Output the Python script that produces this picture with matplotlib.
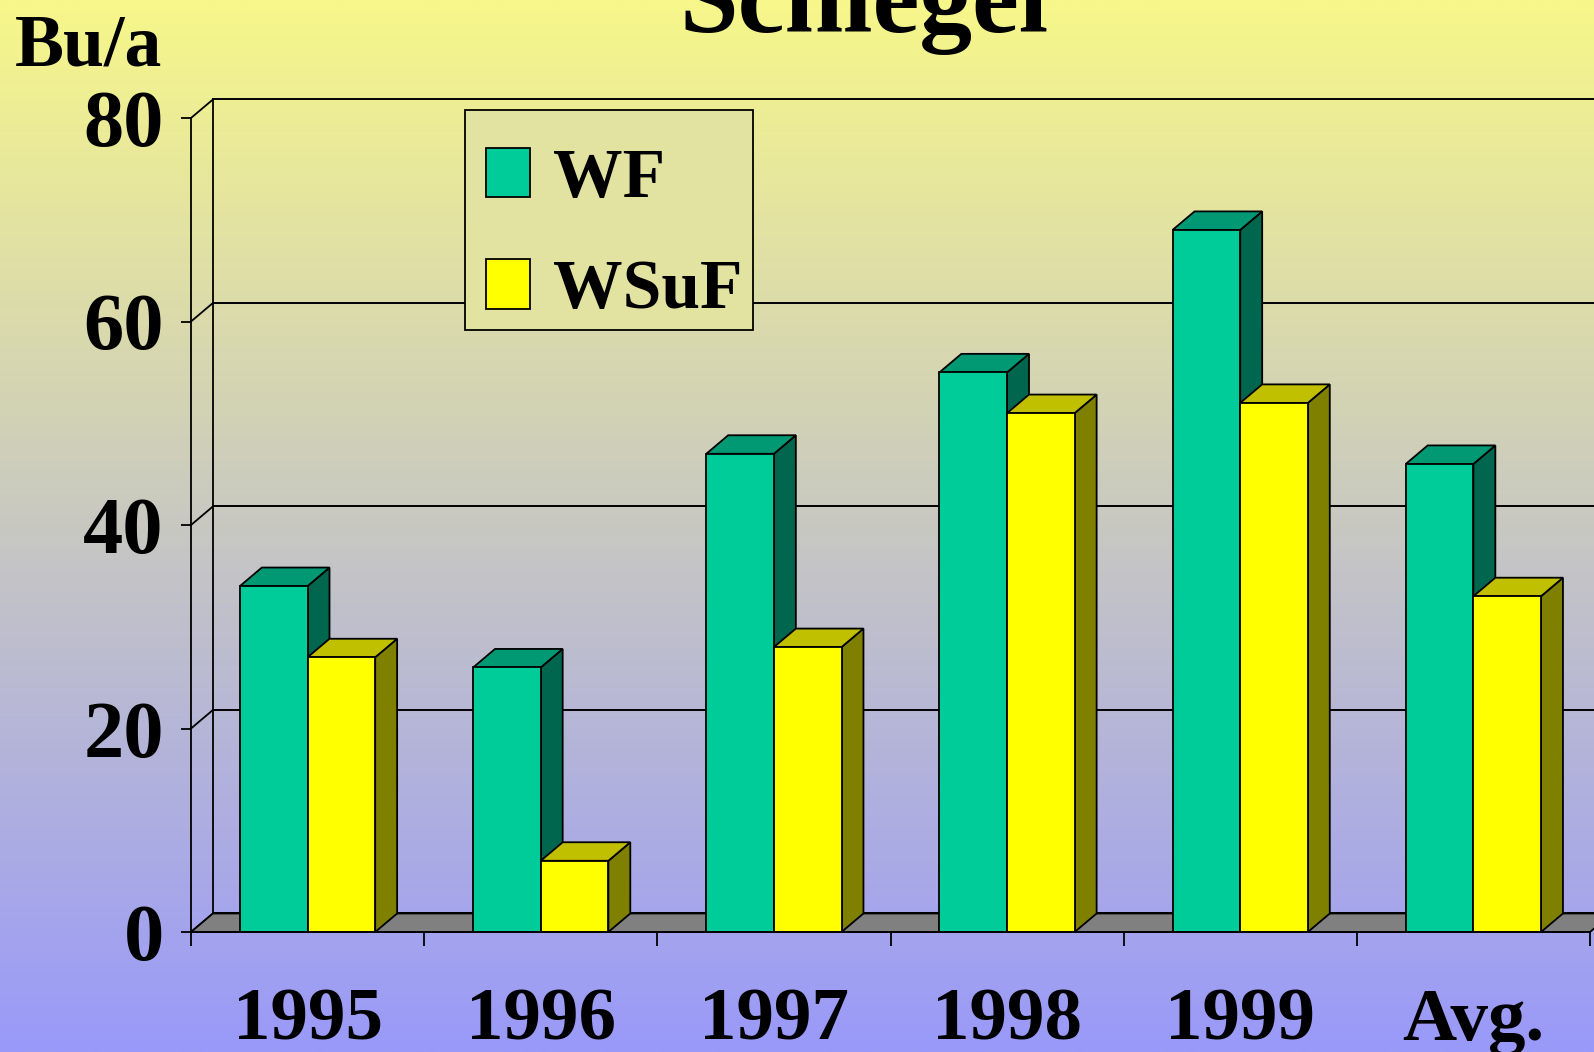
import matplotlib
matplotlib.use("Agg")
import matplotlib.pyplot as plt
import numpy as np
from matplotlib.patches import Polygon, Patch, Rectangle
from matplotlib.transforms import blended_transform_factory

plt.rcParams['font.family'] = ['Liberation Serif', 'DejaVu Serif']
plt.rcParams['font.weight'] = 'bold'

# data
years = ['1995', '1996', '1997', '1998', '1999', 'Avg.']
wf = [34, 26, 47, 55, 69, 46]
wsuf = [27, 7, 28, 51, 52, 33]
yticks = [0, 20, 40, 60, 80]

wf_cols = ('#00CC99', '#009973', '#00664D')    # front, top, side
wsuf_cols = ('#FFFF00', '#C0C000', '#808000')

W, H = 1594, 1052
fig = plt.figure(figsize=(W / 100, H / 100), dpi=100)

# background gradient yellow -> lavender
top = np.array([247, 247, 138]) / 255
bot = np.array([153, 153, 250]) / 255
t = np.linspace(0, 1, 512)[:, None]
grad = (top * (1 - t) + bot * t)[:, None, :]
bg = fig.add_axes([0, 0, 1, 1])
bg.imshow(grad, aspect='auto', extent=[0, 1, 0, 1])
bg.axis('off')

ax = fig.add_axes([191 / W, 120 / H, 1399 / W, 814 / H])
ax.patch.set_visible(False)
ax.set_xlim(-0.5, 5.5)
ax.set_ylim(0, 80)

dx, dy = 0.094, 1.82   # depth offset
bw = 0.29
x = np.arange(len(years))

# floor
ax.add_patch(Polygon([(-0.5, 0), (5.5, 0), (5.5 + dx, dy), (-0.5 + dx, dy)],
                     closed=True, facecolor='#808080', edgecolor='k', lw=1.3,
                     clip_on=False, zorder=2))
# back wall grid + left wall
for v in yticks:
    ax.plot([-0.5 + dx, 6.5], [v + dy, v + dy], color='k', lw=1.4, clip_on=False, zorder=1)
    ax.plot([-0.5, -0.5 + dx], [v, v + dy], color='k', lw=1.3, clip_on=False, zorder=1)
ax.plot([-0.5 + dx, -0.5 + dx], [dy, 80 + dy], color='k', lw=1.3, clip_on=False, zorder=1)


def bar3d(xl, h, cols, z):
    xr = xl + bw
    ax.add_patch(Polygon([(xr, 0), (xr + dx, dy), (xr + dx, h + dy), (xr, h)],
                         facecolor=cols[2], edgecolor='k', lw=1.3, zorder=z, clip_on=False))
    ax.add_patch(Polygon([(xl, h), (xr, h), (xr + dx, h + dy), (xl + dx, h + dy)],
                         facecolor=cols[1], edgecolor='k', lw=1.3, zorder=z, clip_on=False))
    ax.bar(xl, h, width=bw, align='edge', color=cols[0], edgecolor='k',
           lw=1.3, zorder=z + 0.5, clip_on=False)


for i in range(len(years)):
    bar3d(x[i] - bw, wf[i], wf_cols, 3)
    bar3d(x[i], wsuf[i], wsuf_cols, 5)

# axes styling
for s in ['top', 'right']:
    ax.spines[s].set_visible(False)
for s in ['left', 'bottom']:
    ax.spines[s].set_linewidth(1.3)
    ax.spines[s].set_zorder(7)
ax.set_yticks(yticks)
ax.tick_params(axis='y', length=7.5, width=1.3, pad=12, labelsize=58)
ax.set_xticks(np.arange(-0.5, 6, 1))
ax.set_xticklabels([])
ax.tick_params(axis='x', length=10, width=1.3)

tr = blended_transform_factory(ax.transData, fig.transFigure)
for i, lab in enumerate(years):
    ax.text(x[i], 12 / H, lab, transform=tr, ha='center', va='baseline', fontsize=54)

fig.text(15 / W, 1 - 65 / H, 'Bu/a', ha='left', va='baseline', fontsize=53)
fig.text(864 / W, 1 - 32 / H, 'Schlegel', ha='center', va='baseline', fontsize=76)

# legend (frame drawn separately so the inner padding can be uneven)
fy = 220 / H
leg_face = tuple(top * (1 - fy) + bot * fy)
ax.add_patch(Rectangle((465 / W, 1 - 330 / H), 288 / W, 220 / H, transform=fig.transFigure,
                       facecolor=leg_face, edgecolor='k', lw=1.3, clip_on=False, zorder=9))
handles = [Patch(facecolor=wf_cols[0], edgecolor='k', lw=1.3),
           Patch(facecolor=wsuf_cols[0], edgecolor='k', lw=1.3)]
leg = ax.legend(handles, ['WF', 'WSuF'], loc='upper left',
                bbox_to_anchor=(465 / W, 1 - 127 / H), bbox_transform=fig.transFigure,
                borderaxespad=0, fontsize=50, handlelength=0.64, handleheight=0.72,
                handletextpad=0.32, labelspacing=0.68, borderpad=0.3, frameon=False)
leg.set_zorder(10)

fig.savefig('out.png', dpi=100)
